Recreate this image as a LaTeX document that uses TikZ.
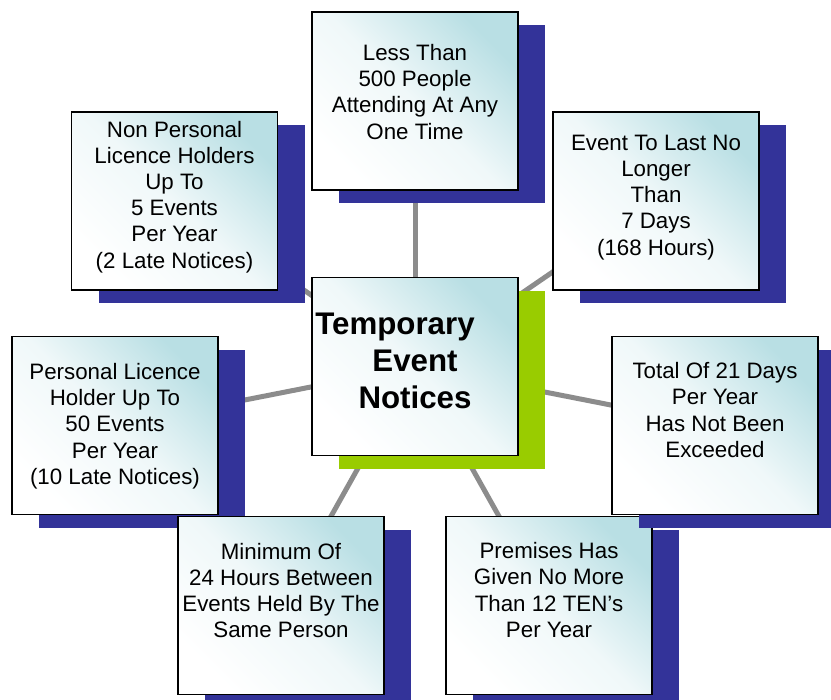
\documentclass[tikz,border=0pt]{standalone}
\usepackage{fontspec}
\setmainfont{Liberation Sans}
\usetikzlibrary{shadows,backgrounds}
\definecolor{tenblue}{RGB}{51,51,153}
\definecolor{tengreen}{RGB}{153,204,0}
\definecolor{tenteal}{RGB}{185,223,228}
\definecolor{tengrey}{RGB}{140,140,140}

\begin{document}
\begin{tikzpicture}[
 card/.style={draw=black,line width=0.8pt,inner sep=1pt,align=center,
  minimum width=4.12cm,minimum height=3.56cm,
  top color=tenteal,bottom color=white,middle color=tenteal!22,shading angle=-45},
 box/.style={card,font=\fontsize{12.7}{14.9}\selectfont,
  drop shadow={shadow xshift=0.54cm,shadow yshift=-0.26cm,fill=tenblue,opacity=1}},
 hub/.style={card,font=\fontsize{17.8}{21}\selectfont\bfseries,
  drop shadow={shadow xshift=0.54cm,shadow yshift=-0.26cm,fill=tengreen,opacity=1}},
 spoke/.style={draw=tengrey,line width=0.1cm}]
\useasboundingbox (0,0) rectangle (16.62,-14);
\node[box,text depth=0.37cm] (less) at (8.30,-2.02) {Less Than\\500 People\\Attending At Any\\One Time};
\node[box,text depth=0.26cm] (nonpl) at (3.49,-4.02) {Non Personal\\Licence Holders\\Up To\\5 Events\\Per Year\\(2 Late Notices)};
\node[box,text depth=0.24cm] (last) at (13.12,-4.02) {Event To Last No\\Longer\\Than\\7 Days\\(168 Hours)};
\node[box,text depth=0.07cm] (pl) at (2.30,-8.51) {Personal Licence\\Holder Up To\\50 Events\\Per Year\\(10 Late Notices)};
\node[box,text depth=0.6cm] (minimum) at (5.62,-12.11) {Minimum Of\\24 Hours Between\\Events Held By The\\Same Person};
\node[box,text depth=0.62cm] (premises) at (10.98,-12.11) {Premises Has\\Given No More\\Than 12 TEN’s\\Per Year};
\node[box,text depth=0.62cm] (total) at (14.30,-8.51) {Total Of 21 Days\\Per Year\\Has Not Been\\Exceeded};
\node[hub,text depth=0.24cm] (ten) at (8.30,-7.33) {Temporary\kern0.8cm\\Event\\Notices};
% spokes behind the boxes
\begin{scope}[on background layer]
\draw[spoke] (ten.center)--(less.center);\draw[spoke] (ten.center)--(nonpl.center);
\draw[spoke] (ten.center)--(last.center);\draw[spoke] (ten.center)--(pl.center);
\draw[spoke] (ten.center)--(total.center);\draw[spoke] (ten.center)--(minimum.center);
\draw[spoke] (ten.center)--(premises.center);
\end{scope}
\end{tikzpicture}
\end{document}
